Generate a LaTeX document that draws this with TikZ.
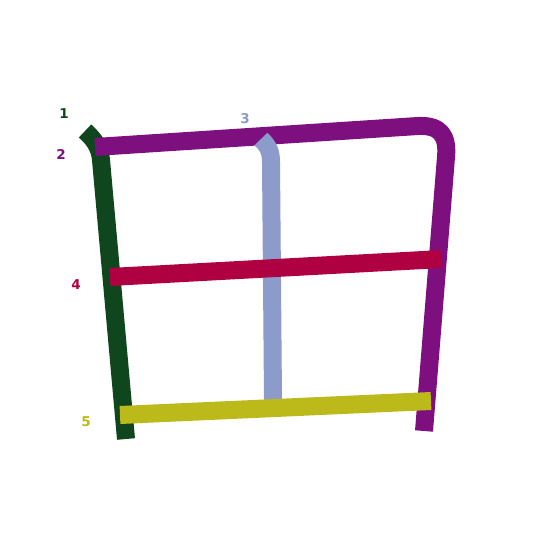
\documentclass[tikz,border=0pt]{standalone}
\usepackage{fontspec}
\setsansfont{DejaVu Sans}
\usetikzlibrary{positioning}
\definecolor{kone}{HTML}{10461E}
\definecolor{ktwo}{HTML}{7E0F7E}
\definecolor{kthree}{HTML}{8D9BCB}
\definecolor{kfour}{HTML}{AF0042}
\definecolor{kfive}{HTML}{BCB91B}

\begin{document}
\begin{tikzpicture}[x=1pt,y=-1pt,
  stroke/.style={line width=18pt,line cap=butt,line join=round},
  num/.style={font=\sffamily\bfseries\fontsize{13.5}{15}\selectfont,inner sep=0pt}]
\useasboundingbox (0,0) rectangle (545,545);
% strokes in writing order
\draw[stroke,kone] (85,131) .. controls (95,140) and (100,148) .. (101,160) -- (126,439);
\draw[stroke,ktwo] (95,147) -- (418,126) .. controls (440,125) and (448,135) .. (446,157) -- (424,431);
\draw[stroke,kthree] (261,139) .. controls (268,146) and (271,151) .. (271,162) -- (273,400);
\draw[stroke,kfour] (110,277) -- (442,259);
\draw[stroke,kfive] (120,415) -- (431,401);
% stroke numbers
\node[num,kone] (n1) at (64,114) {1};
\node[num,ktwo] (n2) at (61,154) {2};
\node[num,kthree] (n3) at (245,119) {3};
\node[num,kfour] (n4) at (76,285) {4};
\node[num,kfive] (n5) at (86,422) {5};
\end{tikzpicture}
\end{document}
